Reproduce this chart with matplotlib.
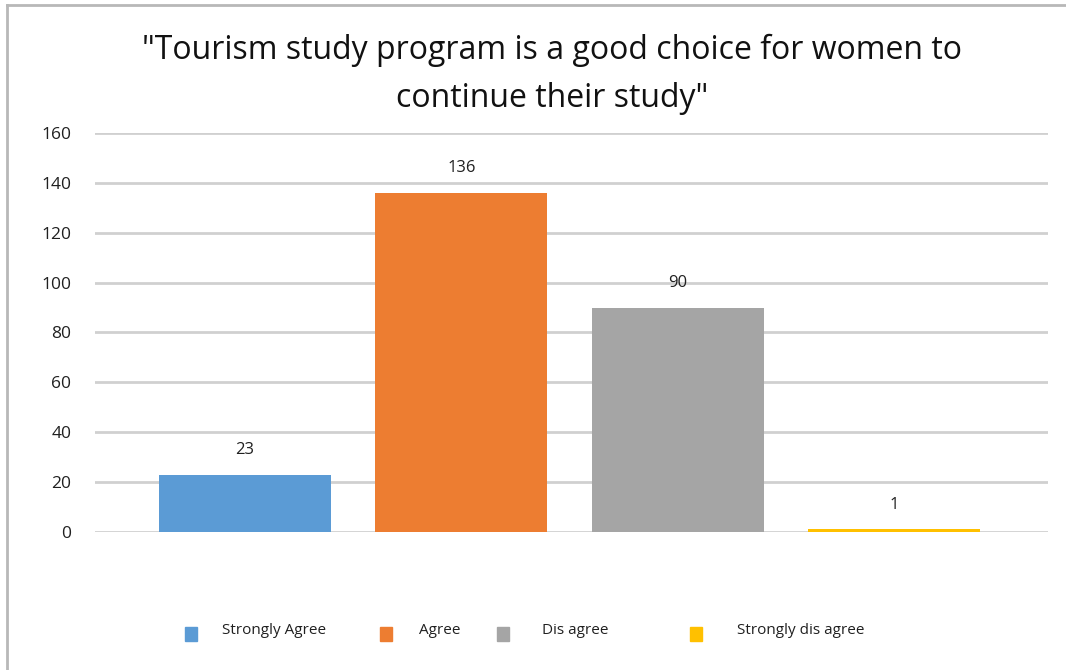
import matplotlib.pyplot as plt
from matplotlib.patches import Rectangle
from matplotlib.lines import Line2D

categories = ['Strongly Agree', 'Agree', 'Dis agree', 'Strongly dis agree']
counts = [23, 136, 90, 1]
colors = ['#5B9BD5', '#ED7D31', '#A5A5A5', '#FFC000']
yticks = [0, 20, 40, 60, 80, 100, 120, 140, 160]

plt.rcParams['font.family'] = ['Open Sans', 'DejaVu Sans']

fig = plt.figure(figsize=(10.66, 6.7), dpi=100)
ax = fig.add_axes([0.0891, 0.206, 0.894, 0.5955])

x = list(range(len(categories)))
bars = ax.bar(x, counts, width=0.795, color=colors, zorder=3)
for xi, v in zip(x, counts):
    ax.annotate(str(v), (xi, v), xytext=(0, 12), textcoords='offset points',
                ha='center', va='bottom', fontsize=12, color='#202020')

ax.set_ylim(0, 160)
ax.set_xlim(-0.693, 3.71)
ax.set_yticks(yticks)
ax.set_xticks([])
ax.yaxis.grid(True, color='#d0d0d0', linewidth=2, zorder=0)
ax.tick_params(axis='y', length=0, pad=17, labelsize=12.5, labelcolor='#202020')
for s in ax.spines.values():
    s.set_visible(False)

fig.text(0.518, 0.889, '"Tourism study program is a good choice for women to\ncontinue their study"',
         ha='center', va='center', fontsize=23, linespacing=1.62, color='#111111')

# legend row under the plot
sq_x = [185, 380, 497, 690]
txt_x = [222, 419, 542, 737]
for sx, tx, c, lab in zip(sq_x, txt_x, colors, categories):
    fig.patches.append(Rectangle((sx / 1066, 1 - 641 / 670), 12 / 1066, 14 / 670,
                                 transform=fig.transFigure, color=c))
    fig.text(tx / 1066, 1 - 630 / 670, lab, ha='left', va='center',
             fontsize=11, color='#202020')

# outer chart border (left and top)
fig.add_artist(Line2D([7 / 1066, 7 / 1066], [0, 1 - 5 / 670], transform=fig.transFigure,
                      color='#b8b8b8', linewidth=2))
fig.add_artist(Line2D([7 / 1066, 1], [1 - 5 / 670, 1 - 5 / 670], transform=fig.transFigure,
                      color='#b8b8b8', linewidth=2))

fig.savefig('out.png', dpi=100)
